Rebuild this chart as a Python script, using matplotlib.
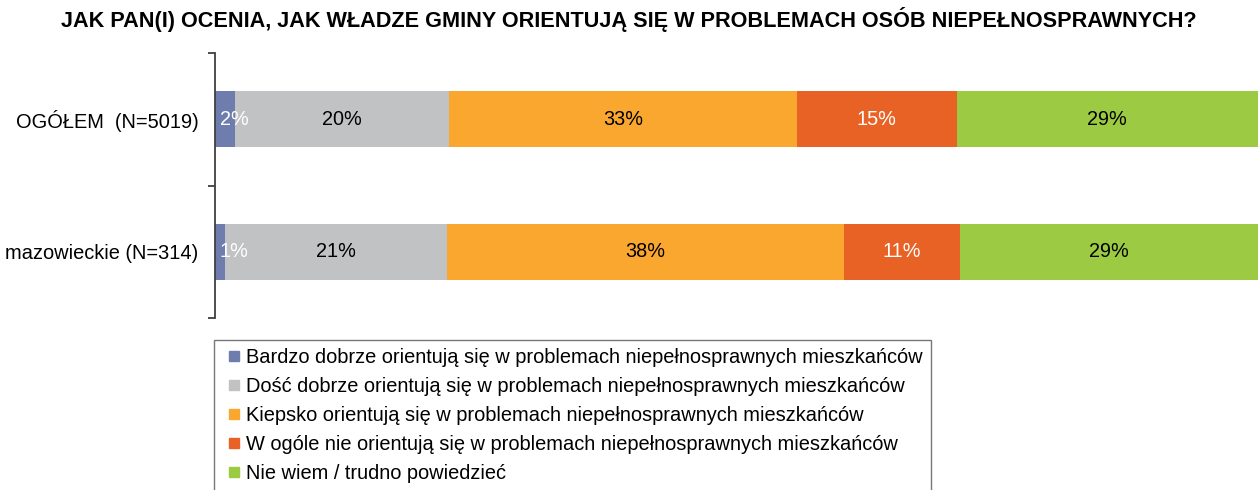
import matplotlib.pyplot as plt
from matplotlib.lines import Line2D
import numpy as np

plt.rcParams['font.family'] = ['Liberation Sans', 'DejaVu Sans']

groups = ['OGÓŁEM  (N=5019)', 'mazowieckie (N=314)']
answers = ['Bardzo dobrze orientują się w problemach niepełnosprawnych mieszkańców',
           'Dość dobrze orientują się w problemach niepełnosprawnych mieszkańców',
           'Kiepsko orientują się w problemach niepełnosprawnych mieszkańców',
           'W ogóle nie orientują się w problemach niepełnosprawnych mieszkańców',
           'Nie wiem / trudno powiedzieć']
# udziały w % (etykiety zaokrąglone)
bardzo = [1.9, 1.0]
dosc = [20.5, 21.2]
kiepsko = [33.4, 38.1]
wcale = [15.3, 11.1]
nie_wiem = [28.9, 28.6]

colors = ['#6E7DAE', '#C1C2C4', '#F9A72E', '#E76224', '#9CCA42']
text_colors = ['white', 'black', 'black', 'white', 'black']

fig = plt.figure(figsize=(12.58, 4.90), dpi=100)
ax = fig.add_axes([215 / 1258, 1 - 318 / 490, 1 - 215 / 1258, 265 / 490])

series = [bardzo, dosc, kiepsko, wcale, nie_wiem]
y = np.arange(len(groups))
left = np.zeros(len(groups))
for i, vals in enumerate(series):
    vals = np.array(vals)
    ax.barh(y, vals, left=left, height=0.42, color=colors[i])
    for j, v in enumerate(vals):
        lab = f'{round(v):.0f}%'
        if i == 0:
            ax.text(left[j] + 0.45, y[j], lab, ha='left', va='center',
                    color=text_colors[i], fontsize=14.3)
        else:
            ax.text(left[j] + v / 2, y[j], lab, ha='center', va='center',
                    color=text_colors[i], fontsize=14.3)
    left += vals

ax.set_xlim(0, 100)
ax.set_ylim(1.5, -0.5)
ax.set_yticks([-0.5, 0.5, 1.5])
ax.set_yticklabels([])
ax.set_yticks(y, minor=True)
ax.set_yticklabels(groups, minor=True, fontsize=14.4)
ax.tick_params(axis='y', which='major', length=5, width=1.3, color='#404040')
ax.tick_params(axis='y', which='minor', length=0, pad=12)
ax.set_xticks([])
for s in ['top', 'right', 'bottom']:
    ax.spines[s].set_visible(False)
ax.spines['left'].set_color('#404040')
ax.spines['left'].set_linewidth(1.3)

fig.suptitle('JAK PAN(I) OCENIA, JAK WŁADZE GMINY ORIENTUJĄ SIĘ W PROBLEMACH OSÓB NIEPEŁNOSPRAWNYCH?',
             x=0.5, y=1 - 20 / 490, va='center', fontsize=15.6, fontweight='bold', color='black')

handles = [Line2D([], [], linestyle='none', marker='s', markersize=7.2,
                  markerfacecolor=c, markeredgecolor=c) for c in colors]
leg = fig.legend(handles, answers, loc='upper left', bbox_to_anchor=(214 / 1258, 1 - 340 / 490),
                 fontsize=14.4, frameon=True, fancybox=False, handlelength=1.15,
                 handletextpad=0.05, labelspacing=0.5,
                 borderpad=0.4, borderaxespad=0)
leg.get_frame().set_edgecolor('#555555')
leg.get_frame().set_linewidth(1.0)

fig.savefig('out.png', dpi=100)
